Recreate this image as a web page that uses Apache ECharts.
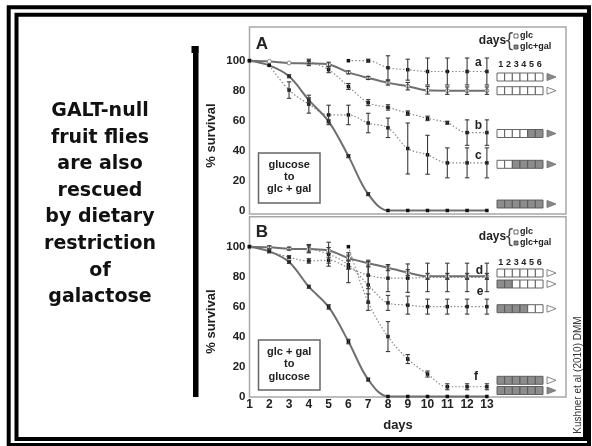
<!DOCTYPE html>
<html><head><meta charset="utf-8">
<script src="https://cdn.jsdelivr.net/npm/echarts@6/dist/echarts.min.js"></script>
<style>html,body{margin:0;padding:0;background:#fff}#c{width:592px;height:446px}</style>
</head><body><div id="c"></div>
<script>
// ---------- data ----------
const days = [1,2,3,4,5,6,7,8,9,10,11,12,13];
const yTicks = [0,20,40,60,80,100];

// Panel A: glucose -> glc + gal
const aControl    = [100,99.5,98.5,98.2,97.5,92.2,88.5,85.2,83,80.2,80,80,80];
const aControlErr = [null,null,null,1.5,1.5,1,1,1.5,2.5,2.5,2.5,2.5,2.5];
const aSeriesA    = [null,null,null,null,null,100,100,95.3,94,92.8,92.8,92.8,92.8];
const aSeriesAErr = [null,null,null,null,null,null,1,8,7,9,9,9,9];
const aSeriesB    = [null,null,null,99.5,94,82.8,72,68.8,65,61.5,58.6,52,52];
const aSeriesBErr = [null,null,null,1.5,2,2,2,1.8,1.5,1.5,1,8.5,8.5];
const aSeriesC    = [null,97,80.4,71,63.8,63.8,58.4,55.2,41.4,37.2,31.8,31.8,31.8];
const aSeriesCErr = [null,null,5.5,6,6.5,6.5,6.5,6.5,17,13,10,10,10];
const aGal        = [100,96.9,89.6,73.7,59.5,36.3,10.9,0,0,0,0,0,0];
const aGalErr     = [null,null,1,1.5,1,1,1,null,null,null,null,null,null];

// Panel B: glc + gal -> glucose
const bControl    = [100,99.6,98.7,98.4,97.5,92.4,89,86,82.7,80.2,80.2,80.2,80.2];
const bControlErr = [null,1,1,2.5,2,2,2,2,2,2,2,2,2];
const bSeriesD    = [null,97,93,90.5,91,86,81,79,79,79.5,79.5,79.5,79.5];
const bSeriesDErr = [null,null,1,1.5,2,10,9,9,9.5,9.5,9.5,9.5,9.5];
const bSeriesE    = [null,null,null,99,95,88,74.5,62.5,61,60,60,60,60];
const bSeriesEErr = [null,null,null,2.5,8,3,12,5,6,5,5,5,5];
const bSeriesF    = [null,null,null,null,null,100,63,40,25,15,6.5,6.5,6.5];
const bSeriesFErr = [null,null,null,null,null,null,5.5,10,3,2,2,2,2];
const bGal        = [100,96.9,89.8,73.3,59.8,36.7,11.3,0,0,0,0,0,0];
const bGalErr     = [null,1,1,1,1.5,1.5,1,null,null,null,null,null,null];

// feeding schedules (legend), g = glc+gal, w = glc
const schedA = ['wwwwww','wwwwww','wwwwgg','wwgggg','gggggg'];
const arrowA = ['g','w','g','g','g'];
const schedB = ['wwwwww','ggwwww','ggggww','gggggg','gggggg'];
const arrowB = ['w','w','w','w','g'];
const headerDays = ['1','2','3','4','5','6'];
const sideText = ['GALT-null','fruit flies','are also','rescued','by dietary','restriction','of','galactose'];

// ---------- helpers ----------
const pairs = (vals) => days.map((d,i)=> vals[i]==null ? null : [d, vals[i]]).filter(Boolean);
const errs = (vals, e) => days.map((d,i)=> (vals[i]==null||e[i]==null) ? null : [d, vals[i]-e[i], vals[i]+e[i]]).filter(Boolean);

function lineSeries(idx, vals, solid, openMarker){
  return {
    type:'line', xAxisIndex:idx, yAxisIndex:idx, data:pairs(vals), smooth:0.35, clip:false,
    symbol: openMarker ? 'circle' : 'rect', symbolSize: openMarker ? 4 : 3.5,
    itemStyle: openMarker ? {color:'#fff', borderColor:'#888', borderWidth:1} : {color:'#111'},
    lineStyle: solid ? {color:'#6f6f6f', width:2} : {color:'#8a8a8a', width:1.2, type:[1.5,2]},
    z: solid ? 3 : 2, animation:false
  };
}
function errSeries(idx, vals, e){
  return {
    type:'custom', xAxisIndex:idx, yAxisIndex:idx, data:errs(vals,e), clip:false, z:4,
    encode:{x:0, y:[1,2]}, animation:false,
    renderItem:(params, api)=>{
      const x = api.value(0);
      const p1 = api.coord([x, api.value(2)]), p2 = api.coord([x, api.value(1)]);
      const st = {stroke:'#3a3a3a', lineWidth:1.1};
      const w = 2.2;
      return {type:'group', children:[
        {type:'line', shape:{x1:p1[0],y1:p1[1],x2:p2[0],y2:p2[1]}, style:st},
        {type:'line', shape:{x1:p1[0]-w,y1:p1[1],x2:p1[0]+w,y2:p1[1]}, style:st},
        {type:'line', shape:{x1:p2[0]-w,y1:p2[1],x2:p2[0]+w,y2:p2[1]}, style:st}
      ]};
    }
  };
}

const F = 'Liberation Sans, Arial, sans-serif';
const graphics = [];
function txt(t, x, y, size, opt){
  graphics.push(Object.assign({type:'text', x:x, y:y, z:10, style:Object.assign({
    text:t, fontSize:size, fontFamily:F, fontWeight:'bold', fill:'#222', align:'center', verticalAlign:'middle'
  }, (opt&&opt.style)||{})}, (opt&&opt.el)||{}));
}
function rect(x,y,w,h,fill,stroke,lw){
  graphics.push({type:'rect', z:9, shape:{x:x,y:y,width:w,height:h}, style:{fill:fill, stroke:stroke, lineWidth:lw||1}});
}

// frames
rect(8.7,7.2,580.3,437.8,'none','#000',4);
rect(16.5,14.7,568.5,424.3,'none','#000',4);
// vertical bar
rect(193,46,5.5,351,'#000',null,0);
rect(191.5,46,7,7,'#000',null,0);

// left text
sideText.forEach((t,i)=> txt(t, 100, 111 + i*26.6, 19, {style:{fontFamily:'DejaVu Sans, sans-serif', fill:'#111'}}));

// panel letters
txt('A', 262, 44, 17);
txt('B', 262, 232, 17);
// y titles
txt('% survival', 211.7, 135.6, 13, {el:{rotation:Math.PI/2}});
txt('% survival', 211.7, 321.6, 13, {el:{rotation:Math.PI/2}});
// x title
txt('days', 398, 425.5, 13);
// credit
txt('Kushner et al (2010) DMM', 578, 375, 10, {style:{fontWeight:'normal', fill:'#333'}, el:{rotation:Math.PI/2}});

// in-plot condition boxes
rect(258.5,153,61.5,50,'#fff','#666',1.5);
['glucose','to','glc + gal'].forEach((t,i)=>txt(t, 289.2, 165+i*12.2, 11));
rect(258.5,340,61.5,50,'#fff','#666',1.5);
['glc + gal','to','glucose'].forEach((t,i)=>txt(t, 289.2, 351.5+i*12.5, 11));

// legends
function legend(top, headY, rowY, sched, arrows, letters){
  txt('days', 492.5, top, 12);
  txt('{', 509.5, top+0.5, 17, {style:{fontWeight:'normal', fill:'#444', fontFamily:'DejaVu Sans, sans-serif'}, el:{scaleY:1.15}});
  rect(514,top-7,4,4,'#fff','#444',0.8);
  txt('glc', 520, top-5, 9, {style:{align:'left'}});
  rect(514,top+4,4,4,'#888','#444',0.8);
  txt('glc+gal', 520, top+6, 9, {style:{align:'left'}});
  const x0 = 497, w = 7.67, h = 8;
  headerDays.forEach((d,i)=>txt(d, x0 + (i+0.5)*w, headY, 9));
  sched.forEach((s,r)=>{
    const y = rowY[r];
    for(let i=0;i<6;i++) rect(x0+i*w, y-h/2, w, h, s[i]==='g' ? '#8c8c8c' : '#fff', '#555', 0.9);
    graphics.push({type:'polygon', z:9, shape:{points:[[547,y-3.5],[547,y+3.5],[556,y]]},
      style:{fill: arrows[r]==='g' ? '#888' : '#fff', stroke:'#777', lineWidth:0.9}});
  });
  letters.forEach(l=>txt(l[0], l[1], l[2], 12));
}
legend(41, 64.3, [77,90.7,133.5,164.3,204], schedA, arrowA, [['a',478.3,62.7],['b',478.3,126],['c',478.3,156]]);
legend(237, 263, [273,284,308.7,380.3,390.5], schedB, arrowB, [['d',479.3,270.5],['e',480,292],['f',476,377]]);

// ---------- chart ----------
const gridCommon = {left:249.5, width:316.5, show:true, borderColor:'#a8a8a8', borderWidth:1.5, backgroundColor:'transparent'};
function xAx(idx, labels){
  return {type:'value', gridIndex:idx, min:1, max:17, splitLine:{show:false}, axisLine:{show:false}, axisTick:{show:false},
    axisLabel: labels ? {show:true, customValues:days, color:'#222', fontSize:12, fontWeight:'bold', fontFamily:F, margin:2} : {show:false}};
}
function yAx(idx, min, max){
  return {type:'value', gridIndex:idx, min:min, max:max, splitLine:{show:false}, axisLine:{show:false}, axisTick:{show:false},
    axisLabel:{customValues:yTicks, color:'#222', fontSize:11.5, fontWeight:'bold', fontFamily:F, margin:4}};
}

const chart = echarts.init(document.getElementById('c'), null, {renderer:'canvas'});
chart.setOption({
  backgroundColor:'#fff',
  animation:false,
  grid:[Object.assign({top:27, height:187}, gridCommon), Object.assign({top:216.7, height:180.3}, gridCommon)],
  xAxis:[xAx(0,false), xAx(1,true)],
  yAxis:[yAx(0,-2.34,122.5), yAx(1,-0.33,120.03)],
  series:[
    lineSeries(0,aControl,true,true), errSeries(0,aControl,aControlErr),
    lineSeries(0,aSeriesA,false), errSeries(0,aSeriesA,aSeriesAErr),
    lineSeries(0,aSeriesB,false), errSeries(0,aSeriesB,aSeriesBErr),
    lineSeries(0,aSeriesC,false), errSeries(0,aSeriesC,aSeriesCErr),
    lineSeries(0,aGal,true), errSeries(0,aGal,aGalErr),
    lineSeries(1,bControl,true,true), errSeries(1,bControl,bControlErr),
    lineSeries(1,bSeriesD,false), errSeries(1,bSeriesD,bSeriesDErr),
    lineSeries(1,bSeriesE,false), errSeries(1,bSeriesE,bSeriesEErr),
    lineSeries(1,bSeriesF,false), errSeries(1,bSeriesF,bSeriesFErr),
    lineSeries(1,bGal,true), errSeries(1,bGal,bGalErr)
  ],
  graphic: graphics
});
</script>
</body></html>
